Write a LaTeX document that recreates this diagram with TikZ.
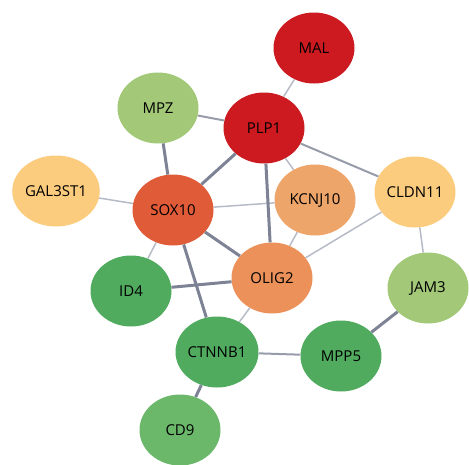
\documentclass[tikz,border=0pt]{standalone}
\usepackage{fontspec}
\setmainfont{Open Sans}
\usetikzlibrary{shapes.geometric}

\definecolor{genered}{HTML}{CC1A20}
\definecolor{geneorred}{HTML}{E05B38}
\definecolor{geneorange}{HTML}{EC9159}
\definecolor{genepeach}{HTML}{EEA56A}
\definecolor{geneyellow}{HTML}{FBCB7E}
\definecolor{genelime}{HTML}{A2C878}
\definecolor{genegreen}{HTML}{50AB5F}
\definecolor{genemint}{HTML}{6CB86B}
\definecolor{edgedark}{HTML}{7D8395}
\definecolor{edgelight}{HTML}{B7BBC7}

\begin{document}
\begin{tikzpicture}[x=1pt,y=-1pt,
    gene/.style={ellipse, minimum width=81pt, minimum height=71pt,
        inner sep=0pt, font=\fontsize{15}{15}\selectfont},
    weak/.style={edgelight, line width=1.5pt},
    mid/.style={edgedark!80!white, line width=2pt},
    strong/.style={edgedark, line width=3pt}
    ]
    \useasboundingbox (0,0) rectangle (469,464);

    % Genes:
    \node[gene, fill=genered]    (mal)    at (314,48)  {MAL};
    \node[gene, fill=genelime]   (mpz)    at (158,108) {MPZ};
    \node[gene, fill=genered]    (plp1)   at (264,128) {PLP1};
    \node[gene, fill=geneyellow] (gal3st1) at (56,191) {GAL3ST1};
    \node[gene, fill=geneorred]  (sox10)  at (173,210) {SOX10};
    \node[gene, fill=genepeach]  (kcnj10) at (315,200) {KCNJ10};
    \node[gene, fill=geneyellow] (cldn11) at (415,192) {CLDN11};
    \node[gene, fill=genegreen]  (id4)    at (131,291) {ID4};
    \node[gene, fill=geneorange] (olig2)  at (272,278) {OLIG2};
    \node[gene, fill=genelime]   (jam3)   at (428,288) {JAM3};
    \node[gene, fill=genegreen]  (ctnnb1) at (217,352) {CTNNB1};
    \node[gene, fill=genegreen]  (mpp5)   at (341,356) {MPP5};
    \node[gene, fill=genemint]   (cd9)    at (180,430) {CD9};

    % Interactions:
    \foreach \a/\b in {mal/plp1, plp1/kcnj10, gal3st1/sox10, sox10/kcnj10,
        sox10/id4, kcnj10/olig2, cldn11/olig2, cldn11/jam3, olig2/ctnnb1}
        \draw[weak] (\a) -- (\b);
    \foreach \a/\b in {mpz/plp1, plp1/cldn11, ctnnb1/mpp5}
        \draw[mid] (\a) -- (\b);
    \foreach \a/\b in {mpz/sox10, plp1/sox10, plp1/olig2, sox10/olig2,
        sox10/ctnnb1, id4/olig2, ctnnb1/cd9, mpp5/jam3}
        \draw[strong] (\a) -- (\b);
\end{tikzpicture}
\end{document}
